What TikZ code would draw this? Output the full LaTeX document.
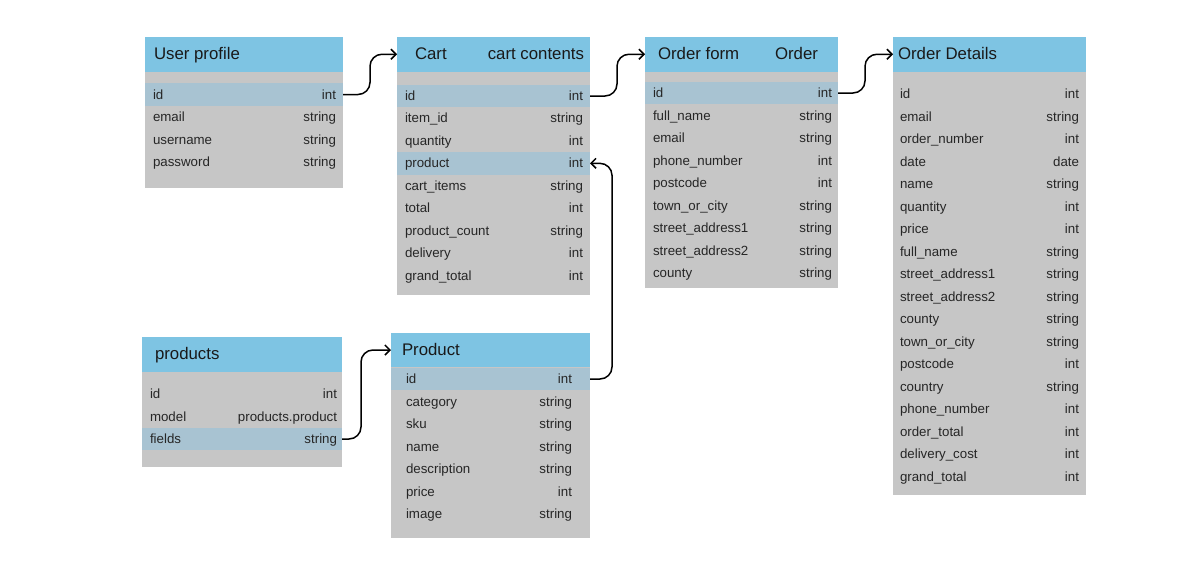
\documentclass[tikz,border=0pt]{standalone}
\usepackage{fontspec}
\setmainfont{Liberation Sans}
\usetikzlibrary{positioning,arrows.meta}

\definecolor{hdrblue}{RGB}{126,196,227}
\definecolor{bodygrey}{RGB}{198,198,198}
\definecolor{rowblue}{RGB}{168,195,210}

\begin{document}
\begin{tikzpicture}
[x=1pt,y=-1pt,
 every node/.style={inner sep=0pt,outer sep=0pt},
 hdr/.style={rectangle,fill=hdrblue,anchor=north west,minimum height=34.5pt},
 body/.style={rectangle,fill=bodygrey,anchor=north west},
 row/.style={rectangle,minimum height=22.5pt},
 title/.style={anchor=west,text=black!90,text height=13pt,text depth=3pt,font=\fontsize{16.8}{18}\selectfont},
 fld/.style={anchor=west,text=black!85,text height=11pt,text depth=2pt,font=\fontsize{13.3}{15}\selectfont},
 typ/.style={anchor=east,text=black!85,text height=11pt,text depth=2pt,font=\fontsize{13.3}{15}\selectfont},
 link/.style={draw=black,line width=1.5pt,rounded corners=12pt,-{Straight Barb[length=5pt,width=10pt]}}]

\useasboundingbox (0,0) rectangle (1190,576);

% user profile
\node[hdr,minimum width=198pt] (UP)  at (145,37)   {};
\node[body,minimum width=198pt,minimum height=116pt] (UPb) at (145,71.5) {};
\node[title] (UPn) at ([xshift=9pt]UP.west) {User profile};
\foreach \fname/\ftype/\fcol [count=\i] in
  {id/int/rowblue, email/string/bodygrey, username/string/bodygrey, password/string/bodygrey}
{
  \node[row,fill=\fcol,minimum width=198pt] (UP\i) at (244,{94.5+22.5*(\i-1)}) {};
  \node[fld] (UPf\i) at ([xshift=8pt]UP\i.west)  {\fname};
  \node[typ] (UPt\i) at ([xshift=-7pt]UP\i.east) {\ftype};
}

% cart
\node[hdr,minimum width=193pt] (CT)  at (397,37)   {};
\node[body,minimum width=193pt,minimum height=223.5pt] (CTb) at (397,71.5) {};
\node[title] (CTn)  at ([xshift=18pt]CT.west) {Cart};
\node[title,anchor=east] (CTm) at ([xshift=-6pt]CT.east) {cart contents};
\foreach \fname/\ftype/\fcol [count=\i] in
  {id/int/rowblue, item\_id/string/bodygrey, quantity/int/bodygrey, product/int/rowblue,
   cart\_items/string/bodygrey, total/int/bodygrey, product\_count/string/bodygrey,
   delivery/int/bodygrey, grand\_total/int/bodygrey}
{
  \node[row,fill=\fcol,minimum width=193pt] (CT\i) at (493.5,{96+22.45*(\i-1)}) {};
  \node[fld] (CTf\i) at ([xshift=8pt]CT\i.west)  {\fname};
  \node[typ] (CTt\i) at ([xshift=-7pt]CT\i.east) {\ftype};
}

% order form
\node[hdr,minimum width=193pt] (OF)  at (645,37)   {};
\node[body,minimum width=193pt,minimum height=216.5pt] (OFb) at (645,71.5) {};
\node[title] (OFn)  at ([xshift=13pt]OF.west) {Order form};
\node[title,anchor=east] (OFm) at ([xshift=-20pt]OF.east) {Order};
\foreach \fname/\ftype/\fcol [count=\i] in
  {id/int/rowblue, full\_name/string/bodygrey, email/string/bodygrey, phone\_number/int/bodygrey,
   postcode/int/bodygrey, town\_or\_city/string/bodygrey, street\_address1/string/bodygrey,
   street\_address2/string/bodygrey, county/string/bodygrey}
{
  \node[row,fill=\fcol,minimum width=193pt] (OF\i) at (741.5,{93+22.5*(\i-1)}) {};
  \node[fld] (OFf\i) at ([xshift=8pt]OF\i.west)  {\fname};
  \node[typ] (OFt\i) at ([xshift=-6pt]OF\i.east) {\ftype};
}

% order details
\node[hdr,minimum width=193pt] (OD)  at (893,37)   {};
\node[body,minimum width=193pt,minimum height=423.5pt] (ODb) at (893,71.5) {};
\node[title] (ODn)  at ([xshift=5pt]OD.west) {Order Details};
\foreach \fname/\ftype [count=\i] in
  {id/int, email/string, order\_number/int, date/date, name/string, quantity/int, price/int,
   full\_name/string, street\_address1/string, street\_address2/string, county/string,
   town\_or\_city/string, postcode/int, country/string, phone\_number/int, order\_total/int,
   delivery\_cost/int, grand\_total/int}
{
  \node[row,minimum width=193pt] (OD\i) at (989.5,{94+22.5*(\i-1)}) {};
  \node[fld] (ODf\i) at ([xshift=7pt]OD\i.west)  {\fname};
  \node[typ] (ODt\i) at ([xshift=-7pt]OD\i.east) {\ftype};
}

% products
\node[hdr,minimum width=200pt] (PS)  at (142,337)  {};
\node[body,minimum width=200pt,minimum height=95pt] (PSb) at (142,371.5) {};
\node[title] (PSn)  at ([xshift=13pt]PS.west) {products};
\foreach \fname/\ftype/\fcol [count=\i] in
  {id/int/bodygrey, model/products.product/bodygrey, fields/string/rowblue}
{
  \node[row,fill=\fcol,minimum width=200pt] (PS\i) at (242,{394+22.5*(\i-1)}) {};
  \node[fld] (PSf\i) at ([xshift=8pt]PS\i.west)  {\fname};
  \node[typ] (PSt\i) at ([xshift=-5pt]PS\i.east) {\ftype};
}

% product
\node[hdr,minimum width=199pt,minimum height=34pt] (PR)  at (391,333) {};
\node[body,minimum width=199pt,minimum height=171pt] (PRb) at (391,367) {};
\node[title] (PRn)  at ([xshift=11pt]PR.west) {Product};
\foreach \fname/\ftype/\fcol [count=\i] in
  {id/int/rowblue, category/string/bodygrey, sku/string/bodygrey, name/string/bodygrey,
   description/string/bodygrey, price/int/bodygrey, image/string/bodygrey}
{
  \node[row,fill=\fcol,minimum width=199pt] (PR\i) at (490.5,{379+22.5*(\i-1)}) {};
  \node[fld] (PRf\i) at ([xshift=15pt]PR\i.west)  {\fname};
  \node[typ] (PRt\i) at ([xshift=-18pt]PR\i.east) {\ftype};
}

% links
\draw[link] (UP1.east) -- ++(27,0) |- (CT.west);
\draw[link] (CT1.east) -- ++(27,0) |- (OF.west);
\draw[link] (OF1.east) -- ++(27,0) |- (OD.west);
\draw[link] (PS3.east) -- ++(19,0) |- (PR.west);
\draw[link] (PR1.east) -- ++(22,0) |- (CT4.east);

\end{tikzpicture}
\end{document}
